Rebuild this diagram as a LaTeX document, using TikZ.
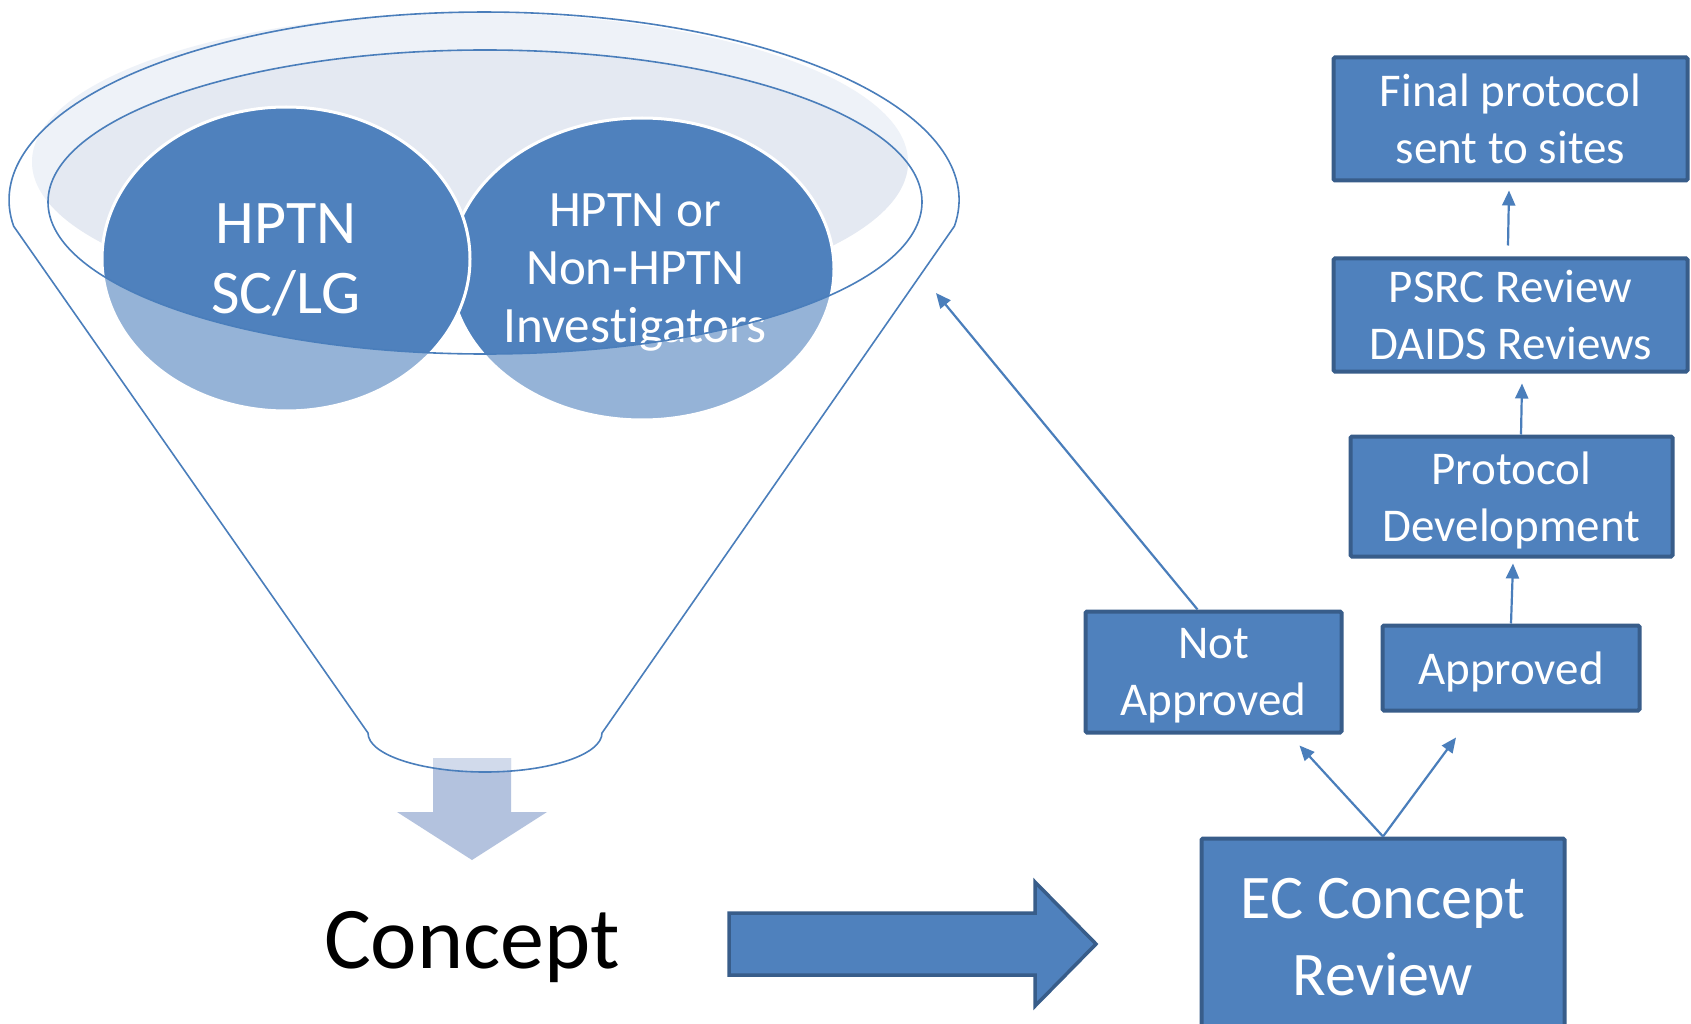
\documentclass[tikz,border=0pt]{standalone}
\usepackage{fontspec}
\setmainfont{Carlito}[Ligatures=NoCommon]
\usetikzlibrary{arrows.meta,calc}
\definecolor{boxfill}{HTML}{4F81BD}
\definecolor{boxline}{HTML}{385D8A}
\definecolor{thinline}{HTML}{4A7EBB}
\definecolor{ringfill}{HTML}{EEF2F8}
\definecolor{innerfill}{HTML}{E4E9F2}
\definecolor{circlelight}{HTML}{95B3D7}
\definecolor{downarrow}{HTML}{B3C2DE}
\begin{document}
\begin{tikzpicture}[x=1pt,y=-1pt,
  stepbox/.style={draw=boxline, fill=boxfill, line width=4pt, rounded corners=1.5pt,
    text=white, align=center, inner sep=0pt, text depth=0pt, font=\fontsize{47}{57}\selectfont},
  flowarrow/.style={draw=thinline, line width=2.2pt, -{Triangle[length=15pt,width=13pt]}},
  funnelline/.style={draw=thinline, line width=1.6pt},
  circletext/.style={text=white, align=center, inner sep=0pt}]
\useasboundingbox (0,0) rectangle (1691,1024);
\fill[white] (0,0) rectangle (1691,1024);

% light fills at funnel mouth
\fill[ringfill] (470,162) ellipse (438 and 149);
\begin{scope}
  \clip (485,202) ellipse (437 and 152);
  \fill[innerfill] (470,162) ellipse (438 and 149);
\end{scope}

% right circle
\fill[circlelight] (642,269) ellipse (192 and 151);
\begin{scope}
  \clip (485,202) ellipse (437 and 152);
  \fill[boxfill] (642,269) ellipse (192 and 151);
\end{scope}
\draw[white, line width=3pt] (642,269) ellipse (192 and 151);

% left circle
\fill[circlelight] (286,259) ellipse (184 and 152);
\begin{scope}
  \clip (485,202) ellipse (437 and 152);
  \fill[boxfill] (286,259) ellipse (184 and 152);
\end{scope}
\draw[white, line width=3pt] (286,259) ellipse (184 and 152);

\node[circletext, font=\fontsize{62}{70}\selectfont] (sclg) at (286,260) {HPTN\\SC/LG};
\node[circletext, font=\fontsize{51}{58}\selectfont] (invest) at (635,273) {HPTN or\\Non-HPTN\\Inves\kern0pt t\kern0pt igators};

% inner ellipse outline
\draw[funnelline] (485,202) ellipse (437 and 152);

% down arrow
\fill[downarrow] (433,758) -- (511,758) -- (511,812) -- (547,812) -- (472,860) -- (397,812) -- (433,812) -- cycle;
\begin{scope}
  \clip (485,733) ellipse (117 and 39);
  \fill[white, opacity=0.4] (433,758) rectangle (511,800);
\end{scope}

% funnel outline
\draw[funnelline] (954.4,226.2) arc[start angle=-8, end angle=188, x radius=475pt, y radius=188pt]
  -- (368,733) arc[start angle=180, end angle=360, x radius=117pt, y radius=39pt] -- cycle;

\node[anchor=base, font=\fontsize{88}{100}\selectfont, inner sep=0pt] (concept) at (472,968) {Concept};

% big right arrow
\filldraw[fill=boxfill, draw=boxline, line width=3.5pt, line join=miter]
  (729,913) -- (1035,913) -- (1035,882) -- (1096,944) -- (1035,1006) -- (1035,975) -- (729,975) -- cycle;

% boxes
\node[stepbox, minimum width=354pt, minimum height=123pt] (final) at (1510.5,119) {F\kern0pt inal protocol\\sent to sites};
\node[stepbox, minimum width=354pt, minimum height=113pt] (psrc) at (1510.5,315) {PSRC Review\\DAIDS Reviews};
\node[stepbox, minimum width=322pt, minimum height=120pt] (protdev) at (1511.5,496.5) {Protocol\\Development};
\node[stepbox, minimum width=257pt, minimum height=85pt] (approved) at (1511,668) {Approved};
\node[stepbox, minimum width=256pt, minimum height=121pt] (notapp) at (1213.5,672) {Not\\Approved};
\node[stepbox, minimum width=363pt, minimum height=197pt, font=\fontsize{62}{77}\selectfont] (ec) at (1383,937) {EC Concept\\Review};

% connectors
\coordinate (funneltip) at (936,293);
\draw[flowarrow] (ec.north) -- ($(notapp.south)+(86,11)$);
\draw[flowarrow] (ec.north) -- ($(approved.south)+(-55,25)$);
\draw[flowarrow] (approved.north) -- ($(protdev.south)+(1.5,5)$);
\draw[flowarrow] ($(protdev.north)+(9.5,0)$) -- ($(psrc.south)+(11.5,10)$);
\draw[flowarrow] ($(psrc.north)+(-2.5,-11)$) -- ($(final.south)+(-1.5,8)$);
\draw[flowarrow] ($(notapp.north)+(-16,0)$) -- (funneltip);
\end{tikzpicture}
\end{document}
